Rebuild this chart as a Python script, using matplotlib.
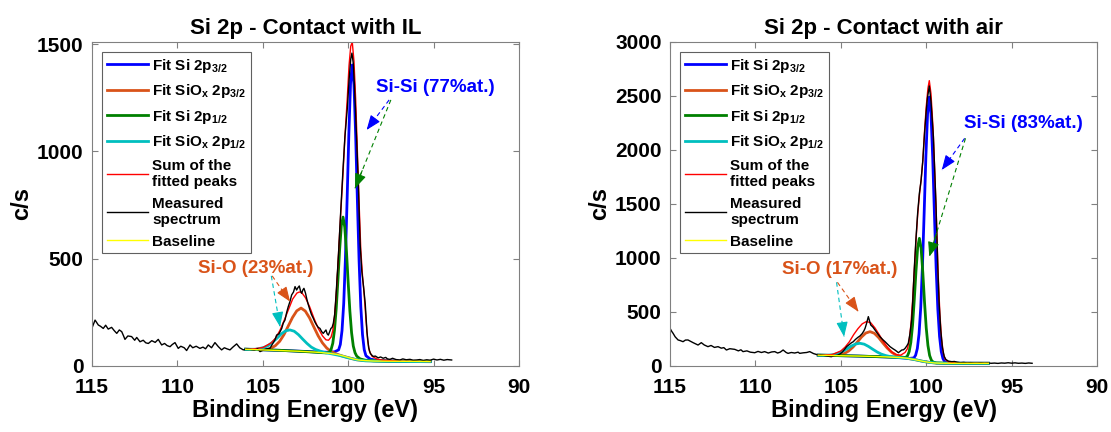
import matplotlib
matplotlib.use("Agg")
import matplotlib.pyplot as plt
import numpy as np

# ---------------- DATA ----------------
# each array: rows of [binding energy (eV), counts (c/s)]

# left panel : contact with IL
il_measured = np.array([
    [115.0, 177], [114.82, 214], [114.7, 200], [114.63, 191], [114.5, 185], [114.34, 175], [114.2, 190],
    [114.05, 172], [113.85, 180], [113.7, 165], [113.55, 152], [113.4, 168], [113.26, 160], [113.15, 140],
    [113.07, 124], [112.9, 140], [112.68, 137], [112.5, 120], [112.38, 133], [112.19, 113], [112.0, 120],
    [111.85, 108], [111.7, 105], [111.5, 118], [111.3, 110], [111.12, 124], [110.92, 98], [110.75, 105],
    [110.6, 95], [110.43, 90], [110.3, 100], [110.14, 109], [109.95, 82], [109.8, 92], [109.6, 85],
    [109.46, 72], [109.26, 98], [109.1, 85], [108.9, 92], [108.68, 82], [108.5, 88], [108.35, 80],
    [108.19, 98], [108.0, 85], [107.8, 109], [107.6, 90], [107.41, 75], [107.25, 85], [107.1, 80],
    [106.92, 75], [106.75, 88], [106.53, 103], [106.35, 85], [106.14, 75], [105.95, 80], [105.75, 78],
    [105.5, 74], [105.3, 80], [105.16, 67], [104.95, 75], [104.75, 80], [104.58, 82], [104.45, 100],
    [104.29, 121], [104.19, 144], [104.05, 150], [103.89, 175], [103.8, 200], [103.7, 214], [103.6, 250],
    [103.51, 276], [103.41, 300], [103.31, 331], [103.2, 345], [103.11, 370], [103.02, 354], [102.94, 365],
    [102.86, 373], [102.79, 350], [102.72, 339], [102.65, 355], [102.59, 362], [102.5, 340], [102.43, 315],
    [102.35, 290], [102.24, 261], [102.15, 240], [102.04, 222], [101.95, 205], [101.85, 191], [101.75, 180],
    [101.65, 175], [101.55, 160], [101.46, 152], [101.38, 160], [101.3, 168], [101.23, 150], [101.16, 144],
    [101.08, 160], [101.01, 175], [100.94, 180], [100.87, 199], [100.79, 240], [100.71, 330], [100.64, 420],
    [100.58, 500], [100.45, 700], [100.3, 920], [100.19, 1068], [100.05, 1200], [99.95, 1330], [99.85, 1430],
    [99.78, 1458], [99.7, 1410], [99.6, 1250], [99.5, 1053], [99.41, 867], [99.3, 570], [99.2, 440],
    [99.1, 370], [99.0, 290], [98.9, 160], [98.8, 85], [98.7, 58], [98.55, 45], [98.4, 46], [98.25, 38],
    [98.1, 42], [97.95, 36], [97.8, 40], [97.7, 33], [97.55, 31], [97.4, 36], [97.2, 30], [96.97, 28],
    [96.8, 33], [96.6, 29], [96.38, 31], [96.2, 27], [95.99, 28], [95.8, 30], [95.6, 26], [95.4, 29],
    [95.2, 27], [95.0, 32], [94.8, 28], [94.6, 31], [94.4, 27], [94.2, 30], [93.94, 28]])

il_baseline = np.array([
    [106.0, 78], [105.0, 75], [104.0, 72], [103.0, 69], [102.0, 65], [101.5, 62], [101.0, 58],
    [100.6, 53], [100.3, 47], [100.0, 40], [99.7, 33], [99.4, 28], [99.0, 25], [98.5, 23],
    [97.0, 22], [95.2, 21]])

il_si32 = np.array([
    [106.0, 78], [104.0, 73], [102.0, 66], [101.2, 64], [100.8, 66], [100.56, 75], [100.46, 100],
    [100.36, 165], [100.26, 292], [100.16, 502], [100.06, 781], [99.96, 1082], [99.86, 1320], [99.76, 1403],
    [99.66, 1310], [99.56, 1072], [99.46, 770], [99.36, 488], [99.26, 276], [99.16, 146], [99.06, 76],
    [98.96, 48], [98.7, 32], [98.3, 26], [97.0, 22], [95.2, 21]])

il_siox32 = np.array([
    [106.0, 78], [105.0, 76], [104.76, 78], [104.51, 83], [104.26, 95], [104.01, 115], [103.76, 146],
    [103.51, 186], [103.26, 226], [103.01, 257], [102.76, 270], [102.51, 256], [102.26, 224], [102.01, 182],
    [101.76, 141], [101.51, 108], [101.26, 84], [101.01, 68], [100.76, 58], [100.4, 48], [100.0, 39],
    [99.5, 29], [99.0, 25], [98.0, 23], [95.2, 21]])

il_si12 = np.array([
    [106.0, 78], [104.0, 73], [102.5, 67], [101.3, 61], [101.1, 63], [101.0, 77], [100.9, 106],
    [100.8, 168], [100.7, 267], [100.6, 400], [100.5, 542], [100.4, 655], [100.3, 694], [100.2, 647],
    [100.1, 535], [100.0, 390], [99.9, 256], [99.8, 155], [99.7, 93], [99.6, 62], [99.5, 46],
    [99.3, 33], [99.0, 27], [98.5, 24], [97.5, 22], [95.2, 21]])

il_siox12 = np.array([
    [106.0, 78], [105.41, 78], [105.16, 82], [104.91, 87], [104.66, 96], [104.41, 112], [104.16, 130],
    [103.91, 150], [103.66, 164], [103.41, 168], [103.16, 162], [102.91, 146], [102.66, 125], [102.41, 105],
    [102.16, 88], [101.91, 77], [101.66, 70], [101.41, 63], [101.0, 57], [100.5, 49], [100.0, 38],
    [99.5, 29], [99.0, 24], [98.0, 22], [95.2, 20]])

il_sum = np.array([
    [106.0, 78], [105.5, 80], [105.0, 86], [104.5, 108], [104.25, 130], [104.0, 165], [103.75, 212],
    [103.5, 262], [103.25, 312], [103.0, 340], [102.85, 345], [102.7, 340], [102.5, 318], [102.25, 275],
    [102.0, 222], [101.75, 175], [101.5, 140], [101.3, 122], [101.15, 120], [101.0, 135], [100.9, 165],
    [100.8, 230], [100.7, 330], [100.6, 470], [100.5, 620], [100.4, 760], [100.3, 900], [100.19, 1068],
    [100.05, 1250], [99.95, 1400], [99.85, 1490], [99.76, 1510], [99.66, 1420], [99.56, 1240], [99.46, 1000],
    [99.36, 760], [99.26, 540], [99.16, 420], [99.06, 330], [98.96, 220], [98.86, 120], [98.76, 70],
    [98.6, 45], [98.3, 32], [98.0, 27], [97.0, 23], [95.2, 21]])

# right panel : contact with air
air_measured = np.array([
    [115.0, 349], [114.9, 320], [114.82, 302], [114.7, 270], [114.53, 241], [114.4, 235], [114.24, 225],
    [114.1, 240], [113.95, 241], [113.8, 228], [113.65, 216], [113.5, 205], [113.36, 194], [113.17, 216],
    [113.0, 195], [112.78, 179], [112.6, 190], [112.4, 172], [112.19, 179], [112.0, 165], [111.85, 170],
    [111.7, 148], [111.5, 160], [111.21, 154], [111.0, 140], [110.85, 150], [110.73, 133], [110.5, 140],
    [110.3, 128], [110.04, 123], [109.85, 135], [109.65, 125], [109.46, 133], [109.25, 120], [109.05, 130],
    [108.87, 133], [108.7, 120], [108.55, 128], [108.38, 148], [108.2, 125], [108.09, 117], [107.9, 125],
    [107.7, 120], [107.5, 128], [107.41, 117], [107.2, 122], [107.0, 125], [106.82, 133], [106.6, 115],
    [106.45, 108], [106.33, 102], [106.2, 105], [106.0, 98], [105.8, 92], [105.56, 86], [105.4, 95],
    [105.2, 100], [105.05, 111], [104.9, 130], [104.8, 150], [104.66, 179], [104.5, 200], [104.38, 215],
    [104.27, 225], [104.15, 245], [104.0, 265], [103.88, 278], [103.75, 300], [103.65, 325], [103.58, 349],
    [103.5, 390], [103.45, 420], [103.39, 457], [103.32, 420], [103.25, 380], [103.12, 360], [103.0, 333],
    [102.85, 300], [102.71, 271], [102.55, 245], [102.41, 225], [102.25, 200], [102.12, 179], [101.95, 160],
    [101.83, 148], [101.72, 135], [101.63, 123], [101.53, 135], [101.43, 148], [101.33, 150], [101.24, 163],
    [101.14, 185], [101.05, 210], [100.95, 300], [100.85, 430], [100.79, 600], [100.7, 900], [100.6, 1180],
    [100.5, 1420], [100.4, 1600], [100.3, 1720], [100.2, 1900], [100.1, 2150], [100.0, 2360], [99.93, 2480],
    [99.82, 2593], [99.72, 2450], [99.58, 2123], [99.43, 1506], [99.33, 950], [99.25, 600], [99.15, 330],
    [99.05, 170], [98.95, 90], [98.85, 60], [98.7, 45], [98.5, 40], [98.35, 42], [98.2, 35], [98.0, 30],
    [97.8, 33], [97.6, 28], [97.4, 31], [97.2, 27], [97.0, 27], [96.8, 30], [96.6, 26], [96.4, 28],
    [96.2, 25], [96.0, 27], [95.8, 24], [95.6, 28], [95.4, 26], [95.2, 30], [95.0, 26], [94.8, 29],
    [94.6, 25], [94.4, 27], [94.2, 24], [94.0, 28], [93.8, 25]])

air_baseline = np.array([
    [106.32, 100], [105.0, 95], [104.0, 92], [103.0, 88], [102.0, 82], [101.5, 78], [101.1, 71],
    [100.7, 60], [100.4, 50], [100.1, 40], [99.8, 33], [99.5, 28], [99.2, 26], [98.5, 25],
    [97.0, 25], [96.36, 25]])

air_si32 = np.array([
    [106.32, 100], [104.0, 92], [102.0, 82], [101.0, 70], [100.72, 75], [100.62, 100], [100.52, 162],
    [100.42, 297], [100.32, 545], [100.22, 927], [100.12, 1421], [100.02, 1940], [99.92, 2338], [99.82, 2490],
    [99.72, 2333], [99.62, 1932], [99.52, 1410], [99.42, 911], [99.32, 525], [99.22, 274], [99.12, 134],
    [99.02, 68], [98.92, 40], [98.7, 30], [98.0, 26], [96.36, 25]])

air_siox32 = np.array([
    [106.32, 100], [105.29, 98], [105.04, 104], [104.79, 116], [104.54, 139], [104.29, 175], [104.04, 220],
    [103.79, 268], [103.54, 305], [103.29, 318], [103.04, 303], [102.79, 264], [102.54, 214], [102.29, 167],
    [102.04, 129], [101.79, 103], [101.54, 88], [101.29, 79], [101.0, 68], [100.6, 57], [100.2, 43],
    [99.8, 33], [99.4, 27], [98.5, 25], [96.36, 25]])

air_si12 = np.array([
    [106.32, 100], [104.0, 92], [102.5, 85], [101.5, 78], [101.2, 80], [101.1, 93], [101.0, 132],
    [100.9, 219], [100.8, 378], [100.7, 611], [100.6, 878], [100.5, 1099], [100.4, 1182], [100.3, 1092],
    [100.2, 866], [100.1, 592], [100.0, 354], [99.9, 190], [99.8, 97], [99.7, 54], [99.6, 37],
    [99.4, 28], [99.0, 26], [98.0, 25], [96.36, 25]])

air_siox12 = np.array([
    [106.32, 100], [105.63, 101], [105.38, 107], [105.13, 119], [104.88, 137], [104.63, 160], [104.38, 185],
    [104.13, 204], [103.88, 210], [103.63, 202], [103.38, 181], [103.13, 155], [102.88, 130], [102.63, 110],
    [102.38, 97], [102.13, 88], [101.88, 83], [101.5, 78], [101.0, 68], [100.6, 57], [100.2, 43],
    [99.8, 33], [99.4, 27], [98.5, 25], [96.36, 25]])

air_sum = np.array([
    [106.32, 100], [105.5, 106], [105.0, 139], [104.75, 175], [104.5, 224], [104.25, 290], [104.0, 345],
    [103.75, 390], [103.5, 412], [103.25, 400], [103.0, 352], [102.75, 290], [102.5, 224], [102.25, 168],
    [102.0, 127], [101.75, 105], [101.5, 100], [101.24, 125], [101.1, 160], [101.0, 230], [100.9, 380],
    [100.8, 600], [100.7, 880], [100.6, 1160], [100.5, 1400], [100.4, 1580], [100.3, 1720], [100.2, 1900],
    [100.1, 2170], [100.0, 2400], [99.9, 2570], [99.82, 2642], [99.72, 2520], [99.6, 2200], [99.5, 1800],
    [99.4, 1350], [99.3, 850], [99.2, 480], [99.1, 250], [99.0, 120], [98.9, 65], [98.7, 38],
    [98.4, 30], [98.0, 27], [97.0, 26], [96.36, 25]])

titles = ["Si 2p - Contact with IL", "Si 2p - Contact with air"]
sisi_text = ["Si-Si (77%at.)", "Si-Si (83%at.)"]
sio_text = ["Si-O (23%at.)", "Si-O (17%at.)"]
legend_labels = [r"Fit Si 2p$_{3/2}$", r"Fit SiO$_x$ 2p$_{3/2}$", r"Fit Si 2p$_{1/2}$",
                 r"Fit SiO$_x$ 2p$_{1/2}$", "Sum of the\nfitted peaks", "Measured\nspectrum", "Baseline"]
xticks = [115, 110, 105, 100, 95, 90]

# ---------------- STYLE ----------------
plt.rcParams['font.family'] = ['Liberation Sans', 'DejaVu Sans']
plt.rcParams['font.weight'] = 'bold'
plt.rcParams['mathtext.fontset'] = 'custom'
plt.rcParams['mathtext.rm'] = 'Liberation Sans:bold'
plt.rcParams['mathtext.it'] = 'Liberation Sans:bold'
plt.rcParams['mathtext.bf'] = 'Liberation Sans:bold'

BLUE = '#0000FF'
ORANGE = '#D95319'
GREEN = '#008000'
CYAN = '#00BFBF'


def arrow(ax, start, tip, color):
    # dashed shaft + solid head, like the matlab annotation arrows
    ax.plot([start[0], tip[0]], [start[1], tip[1]], ls=(0, (4, 3)), color=color, lw=0.8)
    back = (tip[0] + 0.2 * (start[0] - tip[0]), tip[1] + 0.2 * (start[1] - tip[1]))
    ax.annotate('', xy=tip, xytext=back,
                arrowprops=dict(arrowstyle='-|>,head_length=0.9,head_width=0.35', color=color,
                                lw=0.8, shrinkA=0, shrinkB=0))


fig = plt.figure(figsize=(11.11, 4.32), dpi=100)
ax1 = fig.add_axes([0.0828, 0.1528, 0.3843, 0.75])
ax2 = fig.add_axes([0.6031, 0.1528, 0.3843, 0.75])

panels = [
    (ax1, il_si32, il_siox32, il_si12, il_siox12, il_sum, il_measured, il_baseline, 1510, [0, 500, 1000, 1500]),
    (ax2, air_si32, air_siox32, air_si12, air_siox12, air_sum, air_measured, air_baseline, 3000,
     [0, 500, 1000, 1500, 2000, 2500, 3000]),
]

for i, (ax, s32, o32, s12, o12, tot, meas, base, ytop, yt) in enumerate(panels):
    h = []
    h += ax.plot(s32[:, 0], s32[:, 1], color=BLUE, lw=2)
    h += ax.plot(o32[:, 0], o32[:, 1], color=ORANGE, lw=2)
    h += ax.plot(s12[:, 0], s12[:, 1], color=GREEN, lw=2)
    h += ax.plot(o12[:, 0], o12[:, 1], color=CYAN, lw=2)
    h += ax.plot(tot[:, 0], tot[:, 1], color='red', lw=1)
    h += ax.plot(meas[:, 0], meas[:, 1], color='black', lw=1)
    h += ax.plot(base[:, 0], base[:, 1], color='yellow', lw=1)

    ax.set_xlim(115, 90)
    ax.set_ylim(0, ytop)
    ax.set_xticks(xticks)
    ax.set_yticks(yt)
    ax.tick_params(direction='in', top=True, right=True, length=4, color='#808080',
                   labelsize=15)
    ax.tick_params(axis='x', pad=9)
    ax.tick_params(axis='y', pad=6)
    for sp in ax.spines.values():
        sp.set_color('#808080')
        sp.set_linewidth(0.8)
    ax.set_title(titles[i], fontsize=16, fontweight='bold', pad=6)
    ax.set_xlabel("Binding Energy (eV)", fontsize=17, fontweight='bold', labelpad=1)
    ax.set_ylabel("c/s", fontsize=17, fontweight='bold', labelpad=3)

    leg = ax.legend(h, legend_labels, loc='upper left', fontsize=11, handlelength=2.7,
                    handletextpad=0.3, borderaxespad=0.65, borderpad=0.3, labelspacing=0.5,
                    fancybox=False, edgecolor='#606060', framealpha=1)
    leg.get_frame().set_linewidth(0.8)

# annotations, left panel
ax1.text(94.9, 1300, sisi_text[0], color=BLUE, fontsize=13.5, fontweight='bold', ha='center', va='center')
arrow(ax1, (97.6, 1240), (98.92, 1100), BLUE)
arrow(ax1, (97.5, 1240), (99.6, 828), GREEN)
ax1.text(105.4, 455, sio_text[0], color=ORANGE, fontsize=13.5, fontweight='bold', ha='center', va='center')
arrow(ax1, (104.45, 420), (103.4, 300), ORANGE)
arrow(ax1, (104.5, 420), (103.99, 183), CYAN)

# annotations, right panel
ax2.text(94.3, 2247, sisi_text[1], color=BLUE, fontsize=13.5, fontweight='bold', ha='center', va='center')
arrow(ax2, (97.75, 2108), (99.09, 1815), BLUE)
arrow(ax2, (97.7, 2108), (99.82, 1012), GREEN)
ax2.text(105.05, 895, sio_text[1], color=ORANGE, fontsize=13.5, fontweight='bold', ha='center', va='center')
arrow(ax2, (105.2, 775), (103.97, 503), ORANGE)
arrow(ax2, (105.25, 775), (104.81, 271), CYAN)

fig.savefig("out.png", dpi=100)
